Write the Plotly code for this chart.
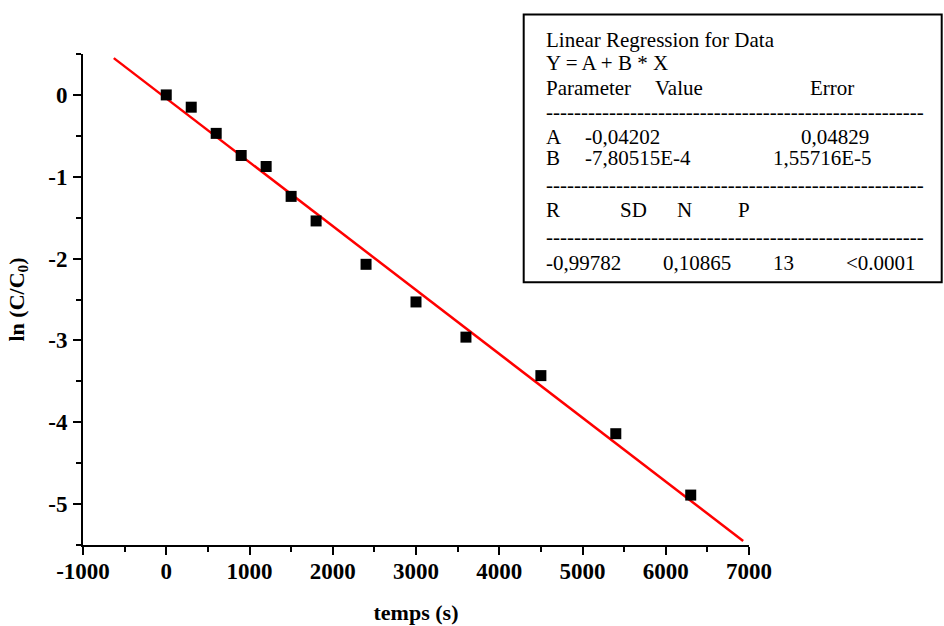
import plotly.graph_objects as go

# ---- data ----
temps = [0, 300, 600, 900, 1200, 1500, 1800, 2400, 3000, 3600, 4500, 5400, 6300]
ln_c = [0.0, -0.15, -0.47, -0.74, -0.875, -1.24, -1.54, -2.07, -2.53, -2.96, -3.43, -4.14, -4.89]
fit_A = -0.04202
fit_B = -7.80515e-4
fit_x = [-630, 6930]
fit_y = [fit_A + fit_B * v for v in fit_x]

x_ticks = [-1000, 0, 1000, 2000, 3000, 4000, 5000, 6000, 7000]
y_ticks = [0, -1, -2, -3, -4, -5]

# ---- layout geometry (pixels) ----
W, H = 944, 626
L, R, T, B = 83.3, 749.3, 53.5, 545.0


def px(xp):
    return (xp - L) / (R - L)


def py(yp):
    return (B - yp) / (B - T)


FONT = "Liberation Serif"

fig = go.Figure()
fig.add_trace(go.Scatter(x=fit_x, y=fit_y, mode="lines",
                         line=dict(color="#ff0000", width=2.5), showlegend=False))
fig.add_trace(go.Scatter(x=temps, y=ln_c, mode="markers",
                         marker=dict(symbol="square", size=11, color="black",
                                     line=dict(width=0)), showlegend=False))

axis_common = dict(
    showgrid=False, zeroline=False, showline=True, linecolor="black", linewidth=2,
    ticks="outside", ticklen=8, tickwidth=2, tickcolor="black",
    tickfont=dict(family=FONT, size=23, color="black", weight="bold"),
    automargin=False,
)

fig.update_xaxes(range=[-1000, 7000], tickvals=x_ticks,
                 ticktext=[str(v) for v in x_ticks], ticklabelstandoff=-4,
                 minor=dict(dtick=500, ticklen=5, tickwidth=2, tickcolor="black", ticks="outside"),
                 title=dict(text="temps (s)", font=dict(family=FONT, size=22, color="black", weight="bold"),
                            standoff=22),
                 **axis_common)
fig.update_yaxes(range=[-5.5, 0.5], tickvals=y_ticks,
                 ticktext=[str(v) for v in y_ticks], ticklabelstandoff=1,
                 minor=dict(dtick=0.5, ticklen=5, tickwidth=2, tickcolor="black", ticks="outside"),
                 title=dict(text="ln (C/C<sub>0</sub>)", font=dict(family=FONT, size=22, color="black", weight="bold"),
                            standoff=18),
                 **axis_common)

# regression box
fig.add_shape(type="rect", xref="paper", yref="paper",
              x0=px(524), x1=px(942), y0=py(282), y1=py(14),
              line=dict(color="black", width=2), fillcolor="white", layer="above")

box_font = dict(family=FONT, size=21, color="black")
dashes = "-" * 54
rows = [
    (39, [(545, "Linear Regression for Data")]),
    (63, [(545, "Y = A + B * X")]),
    (88, [(545, "Parameter"), (654, "Value"), (809, "Error")]),
    (112, [(545, dashes)]),
    (137, [(545, "A"), (584, "-0,04202"), (800, "0,04829")]),
    (158, [(545, "B"), (584, "-7,80515E-4"), (772, "1,55716E-5")]),
    (185, [(545, dashes)]),
    (210, [(545, "R"), (619, "SD"), (676, "N"), (737, "P")]),
    (237, [(545, dashes)]),
    (263, [(545, "-0,99782"), (662, "0,10865"), (772, "13"), (845, "&lt;0.0001")]),
]
for yp, items in rows:
    for xp, txt in items:
        fig.add_annotation(x=px(xp), y=py(yp), xref="paper", yref="paper",
                           text=txt, showarrow=False, xanchor="left", yanchor="middle",
                           font=box_font, borderpad=0)

fig.update_layout(
    width=W, height=H,
    margin=dict(l=L, r=W - R, t=T, b=H - B, pad=0, autoexpand=False),
    paper_bgcolor="white", plot_bgcolor="white",
    showlegend=False,
)

fig.write_html("out.html",
               config={"displayModeBar": False},
               post_script="document.body.style.margin='0';document.body.style.overflow='hidden';")
